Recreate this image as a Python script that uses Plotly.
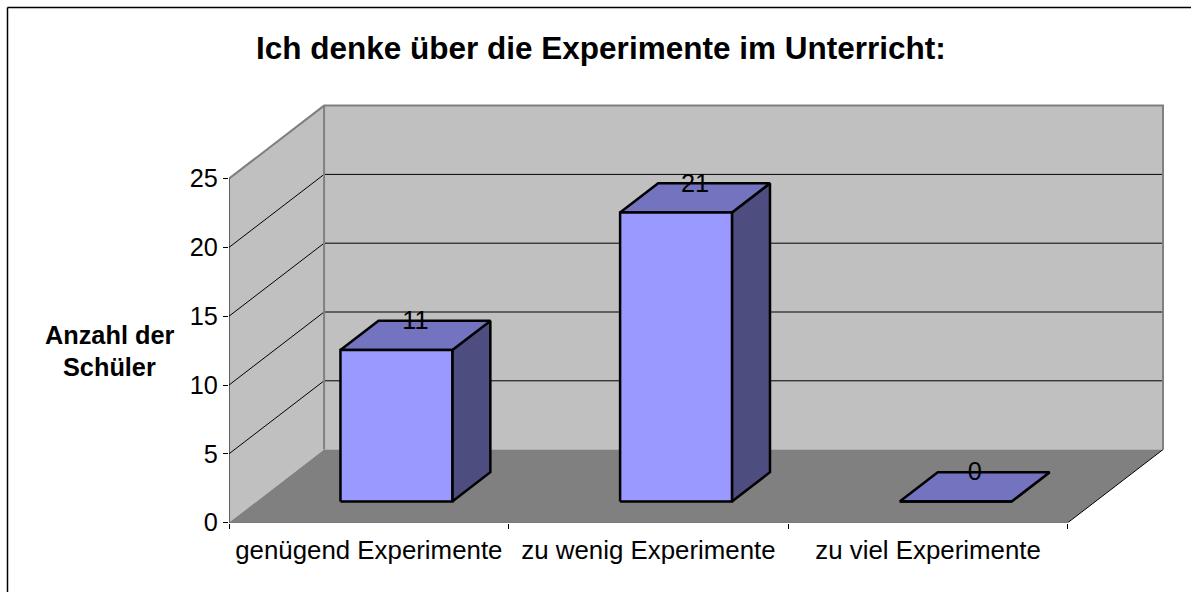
import plotly.graph_objects as go

categories = ["genügend Experimente", "zu wenig Experimente", "zu viel Experimente"]
values = [11, 21, 0]
value_ticks = [0, 5, 10, 15, 20, 25]
title_text = "Ich denke über die Experimente im Unterricht:"
axis_title_lines = ["Anzahl der", "Schüler"]

W, H = 1191, 592
FONT = "Liberation Sans, Arial, sans-serif"
DEPTH_X = 0.34      # category units per full floor depth
DEPTH_Y = 5.305     # value units per full floor depth
BAR_HALF = 0.2
Z_FRONT, Z_BACK = 0.29, 0.69
N = len(categories)
VMAX = value_ticks[-1]


def project(cat, val, z):
    return cat + z * DEPTH_X, val + z * DEPTH_Y


def poly(points, fill=None, line=None, width=1, closed=True):
    pts = [project(*p) for p in points]
    if closed:
        pts.append(pts[0])
    return go.Scatter(
        x=[p[0] for p in pts], y=[p[1] for p in pts], mode="lines",
        fill="toself" if fill else "none", fillcolor=fill,
        line=dict(color=line or "rgba(0,0,0,0)", width=width, dash="solid"),
        hoverinfo="skip", showlegend=False,
    )


fig = go.Figure()

# walls and floor
fig.add_trace(poly([(0, VMAX, 1), (N, VMAX, 1), (N, 0, 1), (0, 0, 1)], fill="#C0C0C0"))
fig.add_trace(poly([(0, 0, 0), (0, VMAX, 0), (0, VMAX, 1), (0, 0, 1)], fill="#C0C0C0"))
fig.add_trace(poly([(0, 0, 0), (N, 0, 0), (N, 0, 1), (0, 0, 1)], fill="#808080"))

# gridlines
for v in value_ticks[1:-1]:
    fig.add_trace(poly([(0, v, 0), (0, v, 1), (N, v, 1)], line="#000000", closed=False))

# wall borders
fig.add_trace(poly([(0, VMAX, 0), (0, VMAX, 1), (N, VMAX, 1), (N, 0, 1)],
                   line="#808080", width=2, closed=False))
fig.add_trace(poly([(0, VMAX, 1), (0, 0, 1)], line="#808080", width=2, closed=False))

# axis edges
fig.add_trace(poly([(0, VMAX, 0), (0, 0, 0), (N, 0, 0), (N, 0, 1)], line="#000000", closed=False))

# bars
for i, v in enumerate(values):
    c0, c1 = i + 0.5 - BAR_HALF, i + 0.5 + BAR_HALF
    fig.add_trace(poly([(c1, 0, Z_FRONT), (c1, 0, Z_BACK), (c1, v, Z_BACK), (c1, v, Z_FRONT)],
                       fill="#4D4D80", line="#000000", width=2.5))
    fig.add_trace(poly([(c0, v, Z_FRONT), (c1, v, Z_FRONT), (c1, v, Z_BACK), (c0, v, Z_BACK)],
                       fill="#7373BF", line="#000000", width=2.5))
    fig.add_trace(poly([(c0, 0, Z_FRONT), (c1, 0, Z_FRONT), (c1, v, Z_FRONT), (c0, v, Z_FRONT)],
                       fill="#9999FF", line="#000000", width=2.5))

# data labels
label_z = (Z_FRONT + Z_BACK) / 2
lx, ly = zip(*[project(i + 0.5, v, label_z) for i, v in enumerate(values)])
fig.add_trace(go.Scatter(
    x=lx, y=ly, mode="text", text=[str(v) for v in values], textposition="top center",
    textfont=dict(family=FONT, size=25.3, color="#000000"),
    hoverinfo="skip", showlegend=False, cliponaxis=False,
))

annotations = [
    dict(text=t, x=109.5 / W, y=1 - yc / H, xref="paper", yref="paper", showarrow=False,
         xanchor="center", yanchor="middle",
         font=dict(family=FONT, size=25.3, color="#000000"))
    for t, yc in zip(["<b>%s</b>" % s for s in axis_title_lines], [334.5, 367.5])
]
annotations.append(dict(
    text="<b>%s</b>" % title_text, x=601 / W, y=1 - 48.5 / H, xref="paper", yref="paper",
    showarrow=False, xanchor="center", yanchor="middle",
    font=dict(family=FONT, size=31.5, color="#000000"),
))

fig.update_layout(
    width=W, height=H, autosize=False,
    margin=dict(l=0, r=0, t=0, b=0, pad=0),
    paper_bgcolor="#FFFFFF", plot_bgcolor="rgba(0,0,0,0)",
    showlegend=False,
    annotations=annotations,
    shapes=[
        dict(type="line", xref="paper", yref="paper", x0=7.5 / W, x1=1, y0=1 - 7.5 / H, y1=1 - 7.5 / H,
             line=dict(color="#000000", width=1.5)),
        dict(type="line", xref="paper", yref="paper", x0=7.5 / W, x1=7.5 / W, y0=0, y1=1 - 7.5 / H,
             line=dict(color="#000000", width=1.5)),
    ],
    xaxis=dict(
        automargin=False,
        domain=[229 / W, 1165 / W],
        range=[0, N + DEPTH_X + 2 / 279.33],
        tickmode="array", tickvals=[i + 0.5 for i in range(N)], ticktext=categories,
        ticks="", showgrid=False, zeroline=False, showline=False,
        tickfont=dict(family=FONT, size=25.85, color="#000000"),
        ticklabelstandoff=10,
        minor=dict(tickmode="array", tickvals=list(range(N + 1)), ticks="outside",
                   ticklen=5, tickwidth=1, tickcolor="#000000", showgrid=False),
    ),
    yaxis=dict(
        automargin=False,
        domain=[1 - 522.6 / H, 1 - 103.6 / H],
        range=[0, VMAX + DEPTH_Y + 2 / 13.76],
        tickmode="array", tickvals=value_ticks,
        ticks="outside", ticklen=5, tickwidth=1, tickcolor="#000000",
        showgrid=False, zeroline=False, showline=False,
        tickfont=dict(family=FONT, size=25.3, color="#000000"),
    ),
)

fig.write_html("out.html", config={"displayModeBar": False},
               post_script="document.body.style.margin='0';document.documentElement.style.overflow='hidden';")
